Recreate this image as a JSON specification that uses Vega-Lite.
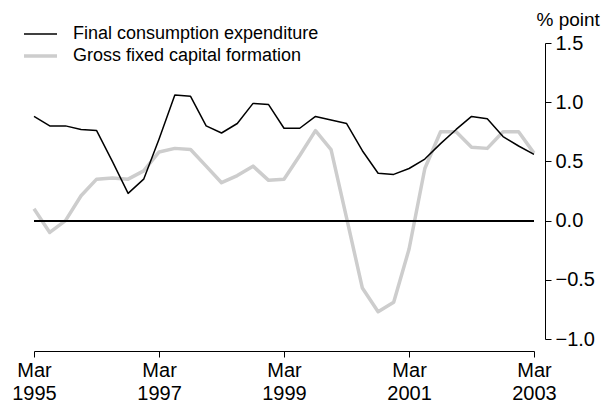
{
  "$schema": "https://vega.github.io/schema/vega-lite/v6.json",
  "width": 500,
  "height": 296,
  "autosize": {"type": "none"},
  "padding": {"left": 34, "top": 43, "right": 67, "bottom": 66},
  "config": {
    "view": {"stroke": null},
    "font": "Liberation Sans",
    "axis": {"labelColor": "#000", "titleColor": "#000", "domainColor": "#000", "tickColor": "#000", "grid": false}
  },
  "data": {
    "values": [
      {"date": "1995-03-01", "series": "Gross fixed capital formation", "value": 0.10},
      {"date": "1995-06-01", "series": "Gross fixed capital formation", "value": -0.10},
      {"date": "1995-09-01", "series": "Gross fixed capital formation", "value": 0.00},
      {"date": "1995-12-01", "series": "Gross fixed capital formation", "value": 0.21},
      {"date": "1996-03-01", "series": "Gross fixed capital formation", "value": 0.35},
      {"date": "1996-06-01", "series": "Gross fixed capital formation", "value": 0.36},
      {"date": "1996-09-01", "series": "Gross fixed capital formation", "value": 0.35},
      {"date": "1996-12-01", "series": "Gross fixed capital formation", "value": 0.42},
      {"date": "1997-03-01", "series": "Gross fixed capital formation", "value": 0.58},
      {"date": "1997-06-01", "series": "Gross fixed capital formation", "value": 0.61},
      {"date": "1997-09-01", "series": "Gross fixed capital formation", "value": 0.60},
      {"date": "1997-12-01", "series": "Gross fixed capital formation", "value": 0.46},
      {"date": "1998-03-01", "series": "Gross fixed capital formation", "value": 0.32},
      {"date": "1998-06-01", "series": "Gross fixed capital formation", "value": 0.38},
      {"date": "1998-09-01", "series": "Gross fixed capital formation", "value": 0.46},
      {"date": "1998-12-01", "series": "Gross fixed capital formation", "value": 0.34},
      {"date": "1999-03-01", "series": "Gross fixed capital formation", "value": 0.35},
      {"date": "1999-06-01", "series": "Gross fixed capital formation", "value": 0.55},
      {"date": "1999-09-01", "series": "Gross fixed capital formation", "value": 0.76},
      {"date": "1999-12-01", "series": "Gross fixed capital formation", "value": 0.60},
      {"date": "2000-03-01", "series": "Gross fixed capital formation", "value": 0.02},
      {"date": "2000-06-01", "series": "Gross fixed capital formation", "value": -0.57},
      {"date": "2000-09-01", "series": "Gross fixed capital formation", "value": -0.77},
      {"date": "2000-12-01", "series": "Gross fixed capital formation", "value": -0.69},
      {"date": "2001-03-01", "series": "Gross fixed capital formation", "value": -0.24},
      {"date": "2001-06-01", "series": "Gross fixed capital formation", "value": 0.44},
      {"date": "2001-09-01", "series": "Gross fixed capital formation", "value": 0.75},
      {"date": "2001-12-01", "series": "Gross fixed capital formation", "value": 0.75},
      {"date": "2002-03-01", "series": "Gross fixed capital formation", "value": 0.62},
      {"date": "2002-06-01", "series": "Gross fixed capital formation", "value": 0.61},
      {"date": "2002-09-01", "series": "Gross fixed capital formation", "value": 0.75},
      {"date": "2002-12-01", "series": "Gross fixed capital formation", "value": 0.75},
      {"date": "2003-03-01", "series": "Gross fixed capital formation", "value": 0.57},
      {"date": "1995-03-01", "series": "Final consumption expenditure", "value": 0.88},
      {"date": "1995-06-01", "series": "Final consumption expenditure", "value": 0.80},
      {"date": "1995-09-01", "series": "Final consumption expenditure", "value": 0.80},
      {"date": "1995-12-01", "series": "Final consumption expenditure", "value": 0.77},
      {"date": "1996-03-01", "series": "Final consumption expenditure", "value": 0.76},
      {"date": "1996-06-01", "series": "Final consumption expenditure", "value": 0.50},
      {"date": "1996-09-01", "series": "Final consumption expenditure", "value": 0.23},
      {"date": "1996-12-01", "series": "Final consumption expenditure", "value": 0.35},
      {"date": "1997-03-01", "series": "Final consumption expenditure", "value": 0.69},
      {"date": "1997-06-01", "series": "Final consumption expenditure", "value": 1.06},
      {"date": "1997-09-01", "series": "Final consumption expenditure", "value": 1.05},
      {"date": "1997-12-01", "series": "Final consumption expenditure", "value": 0.80},
      {"date": "1998-03-01", "series": "Final consumption expenditure", "value": 0.74},
      {"date": "1998-06-01", "series": "Final consumption expenditure", "value": 0.82},
      {"date": "1998-09-01", "series": "Final consumption expenditure", "value": 0.99},
      {"date": "1998-12-01", "series": "Final consumption expenditure", "value": 0.98},
      {"date": "1999-03-01", "series": "Final consumption expenditure", "value": 0.78},
      {"date": "1999-06-01", "series": "Final consumption expenditure", "value": 0.78},
      {"date": "1999-09-01", "series": "Final consumption expenditure", "value": 0.88},
      {"date": "1999-12-01", "series": "Final consumption expenditure", "value": 0.85},
      {"date": "2000-03-01", "series": "Final consumption expenditure", "value": 0.82},
      {"date": "2000-06-01", "series": "Final consumption expenditure", "value": 0.59},
      {"date": "2000-09-01", "series": "Final consumption expenditure", "value": 0.40},
      {"date": "2000-12-01", "series": "Final consumption expenditure", "value": 0.39},
      {"date": "2001-03-01", "series": "Final consumption expenditure", "value": 0.44},
      {"date": "2001-06-01", "series": "Final consumption expenditure", "value": 0.52},
      {"date": "2001-09-01", "series": "Final consumption expenditure", "value": 0.65},
      {"date": "2001-12-01", "series": "Final consumption expenditure", "value": 0.77},
      {"date": "2002-03-01", "series": "Final consumption expenditure", "value": 0.88},
      {"date": "2002-06-01", "series": "Final consumption expenditure", "value": 0.86},
      {"date": "2002-09-01", "series": "Final consumption expenditure", "value": 0.71},
      {"date": "2002-12-01", "series": "Final consumption expenditure", "value": 0.63},
      {"date": "2003-03-01", "series": "Final consumption expenditure", "value": 0.56}
    ]
  },
  "layer": [
    {
      "mark": {"type": "line", "strokeJoin": "round"},
      "encoding": {
        "x": {
          "field": "date",
          "type": "temporal",
          "scale": {"type": "utc", "domain": [{"year": 1995, "month": 3, "date": 1, "utc": true}, {"year": 2003, "month": 3, "date": 1, "utc": true}]},
          "axis": {
            "title": null,
            "orient": "bottom",
            "offset": 12,
            "tickSize": 6,
            "values": [
              {"year": 1995, "month": 3, "date": 1, "utc": true},
              {"year": 1997, "month": 3, "date": 1, "utc": true},
              {"year": 1999, "month": 3, "date": 1, "utc": true},
              {"year": 2001, "month": 3, "date": 1, "utc": true},
              {"year": 2003, "month": 3, "date": 1, "utc": true}
            ],
            "labelExpr": "['Mar', utcFormat(datum.value, '%Y')]",
            "labelFontSize": 20,
            "labelLineHeight": 23,
            "labelPadding": 3,
            "labelFlush": false
          }
        },
        "y": {
          "field": "value",
          "type": "quantitative",
          "scale": {"domain": [-1, 1.5], "nice": false, "zero": false},
          "axis": {
            "orient": "right",
            "offset": 11,
            "tickSize": 6,
            "values": [-1, -0.5, 0, 0.5, 1, 1.5],
            "format": ".1f",
            "labelFontSize": 20,
            "labelPadding": 4,
            "title": "% point",
            "titleAngle": 0,
            "titleAlign": "left",
            "titleBaseline": "alphabetic",
            "titleX": -9,
            "titleY": -18,
            "titleFontSize": 19,
            "titleFontWeight": "normal"
          }
        },
        "color": {
          "field": "series",
          "type": "nominal",
          "scale": {"domain": ["Final consumption expenditure", "Gross fixed capital formation"], "range": ["#000000", "#cdcdcd"]},
          "legend": {
            "title": null,
            "orient": "none",
            "legendX": -6.5,
            "legendY": -21,
            "symbolType": "M-1.5,0H1.5",
            "symbolSize": 484,
            "symbolFillColor": "transparent",
            "labelFontSize": 18,
            "labelColor": "#000",
            "labelLimit": 0,
            "labelOffset": 19.5,
            "rowPadding": 0,
            "padding": 0
          }
        },
        "strokeWidth": {
          "field": "series",
          "type": "nominal",
          "scale": {"domain": ["Final consumption expenditure", "Gross fixed capital formation"], "range": [1.5, 3.5]},
          "legend": null
        }
      }
    },
    {
      "mark": {"type": "rule", "color": "#000", "strokeWidth": 1.2},
      "encoding": {"y": {"datum": 0}}
    }
  ]
}
